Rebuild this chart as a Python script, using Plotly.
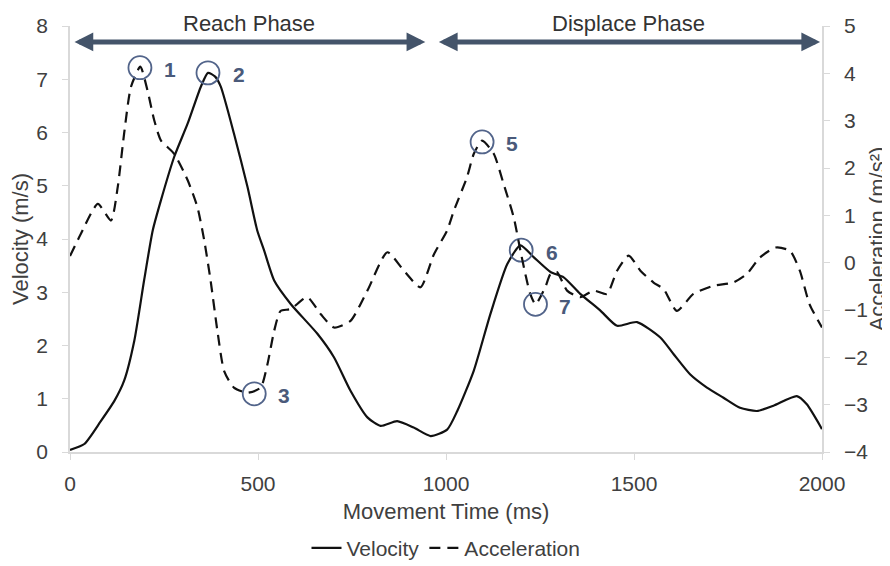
import plotly.graph_objects as go

# ---- data ----
vel_t = [0, 38, 82, 118, 144, 171, 197, 220, 242, 277, 313, 348, 367, 386, 401, 436, 472, 498, 516,
         543, 587, 658, 702, 746, 791, 826, 870, 914, 959, 1003, 1030, 1074, 1118, 1163, 1198,
         1233, 1278, 1313, 1357, 1410, 1455, 1508, 1570, 1605, 1649, 1694, 1738, 1782, 1827,
         1871, 1933, 1959, 2000]
vel = [0.04, 0.15, 0.58, 0.96, 1.34, 2.09, 3.22, 4.16, 4.73, 5.54, 6.17, 6.86, 7.12, 7.05, 6.86, 5.98,
       4.98, 4.16, 3.79, 3.22, 2.78, 2.22, 1.78, 1.15, 0.65, 0.49, 0.58, 0.46, 0.30, 0.42, 0.77,
       1.53, 2.59, 3.53, 3.88, 3.66, 3.38, 3.28, 2.97, 2.66, 2.37, 2.44, 2.15, 1.84, 1.46, 1.21,
       1.02, 0.83, 0.77, 0.87, 1.05, 0.90, 0.43]

acc_t = [0, 29, 74, 109, 127, 144, 162, 187, 206, 224, 242, 277, 313, 339, 357, 374, 392, 410,
         436, 472, 507, 525, 543, 560, 587, 631, 667, 702, 746, 791, 844, 888, 932, 968, 1003,
         1021, 1056, 1074, 1096, 1127, 1153, 1180, 1198, 1211, 1224, 1238, 1264, 1278, 1295,
         1322, 1357, 1393, 1428, 1455, 1486, 1517, 1552, 1579, 1614, 1658, 1711, 1764, 1800,
         1835, 1877, 1915, 1941, 1967, 2000]
acc = [0.14, 0.61, 1.24, 0.89, 1.60, 2.73, 3.71, 4.14, 3.64, 3.01, 2.58, 2.30, 1.74, 1.17, 0.47,
       -0.38, -1.44, -2.29, -2.64, -2.75, -2.64, -2.15, -1.44, -1.02, -0.98, -0.73, -1.09, -1.37,
       -1.23, -0.59, 0.22, -0.17, -0.52, 0.18, 0.68, 1.10, 1.81, 2.30, 2.58, 2.30, 1.67, 0.96,
       0.25, -0.24, -0.66, -0.88, -0.52, -0.24, -0.20, -0.59, -0.73, -0.59, -0.66, -0.17, 0.15,
       -0.17, -0.42, -0.56, -1.02, -0.66, -0.49, -0.42, -0.24, 0.11, 0.32, 0.25, -0.17, -0.88,
       -1.37]

# circled key points
vel_pt_labels = ["2", "6"]
vel_pt_t = [367, 1200]
vel_pt_v = [7.12, 3.79]
acc_pt_labels = ["1", "3", "5", "7"]
acc_pt_t = [186, 490, 1096, 1238]
acc_pt_v = [4.12, -2.77, 2.55, -0.88]

# phases
phase_names = ["Reach Phase", "Displace Phase"]
phase_start = [8, 977]
phase_end = [945, 1995]
phase_arrow_v = 7.70

x_ticks = [0, 500, 1000, 1500, 2000]

FONT = "Liberation Sans, Arial, sans-serif"
TXT = "#404040"
AXC = "#d9d9d9"
MARK = "#52648A"
LBL = "#4A5A7A"
ARROW = "#44546A"

fig = go.Figure()
fig.add_trace(go.Scatter(x=vel_t, y=vel, name="Velocity", mode="lines",
                         line=dict(color="#111111", width=2.2, shape="spline", smoothing=0.6)))
fig.add_trace(go.Scatter(x=acc_t, y=acc, name="Acceleration", mode="lines", yaxis="y2",
                         line=dict(color="#111111", width=2.2, dash="11px,7px",
                                   shape="spline", smoothing=0.6)))
fig.add_trace(go.Scatter(x=vel_pt_t, y=vel_pt_v, mode="markers", showlegend=False,
                         marker=dict(symbol="circle-open", size=23, line=dict(color=MARK, width=1.8),
                                     color=MARK)))
fig.add_trace(go.Scatter(x=acc_pt_t, y=acc_pt_v, mode="markers", showlegend=False, yaxis="y2",
                         marker=dict(symbol="circle-open", size=23, line=dict(color=MARK, width=1.8),
                                     color=MARK)))

ann = []
for lab, t, v in zip(vel_pt_labels, vel_pt_t, vel_pt_v):
    ann.append(dict(x=t, y=v, xref="x", yref="y", text=f"<b>{lab}</b>", showarrow=False,
                    xshift=31, yshift=-2, font=dict(size=21, color=LBL, family=FONT)))
for lab, t, v in zip(acc_pt_labels, acc_pt_t, acc_pt_v):
    ann.append(dict(x=t, y=v, xref="x", yref="y2", text=f"<b>{lab}</b>", showarrow=False,
                    xshift=30, yshift=-2, font=dict(size=21, color=LBL, family=FONT)))
for name, s, e in zip(phase_names, phase_start, phase_end):
    ann.append(dict(x=e, y=phase_arrow_v, ax=s, ay=phase_arrow_v, xref="x", yref="y",
                    axref="x", ayref="y", text="", showarrow=True, arrowside="end+start",
                    arrowhead=2, startarrowhead=2, arrowwidth=5, arrowsize=0.75,
                    startarrowsize=0.75, arrowcolor=ARROW, standoff=0, startstandoff=0))
    ann.append(dict(x=(s + e) / 2, y=1.005, xref="x", yref="paper", yanchor="middle",
                    text=name, showarrow=False,
                    font=dict(size=22, color="#333333", family=FONT)))

# page body adds an 8px offset; figure is sized so it fills the window exactly
fig.update_layout(
    width=882, height=558,
    margin=dict(l=62, r=68, t=18, b=114, autoexpand=False),
    paper_bgcolor="white", plot_bgcolor="white",
    font=dict(family=FONT, size=21, color=TXT),
    showlegend=True,
    legend=dict(orientation="h", x=0.5, xanchor="center", y=-0.226, yanchor="middle",
                font=dict(size=21, color=TXT), itemwidth=30, tracegroupgap=0),
    annotations=ann,
    xaxis=dict(range=[0, 2000], tickvals=x_ticks, showline=True, linecolor=AXC, linewidth=1.5,
               ticks="outside", ticklen=6, tickcolor=AXC, showgrid=False, zeroline=False,
               ticklabelstandoff=6, automargin=False,
               title=dict(text="Movement Time (ms)", standoff=10, font=dict(size=22, color=TXT))),
    yaxis=dict(range=[0, 8], dtick=1, showline=True, linecolor=AXC, linewidth=1.5,
               ticks="outside", ticklen=6, tickcolor=AXC, showgrid=False, zeroline=False,
               ticklabelstandoff=10, automargin=False,
               title=dict(text="Velocity (m/s)", standoff=4, font=dict(size=22, color=TXT))),
    yaxis2=dict(range=[-4, 5], dtick=1, overlaying="y", side="right", showline=True,
                linecolor=AXC, linewidth=1.5, ticks="outside", ticklen=6, tickcolor=AXC,
                showgrid=False, zeroline=False, ticklabelstandoff=10, automargin=False,
                title=dict(text="Acceleration (m/s²)", standoff=4, font=dict(size=22, color=TXT))),
)

fig.write_html("out.html")
